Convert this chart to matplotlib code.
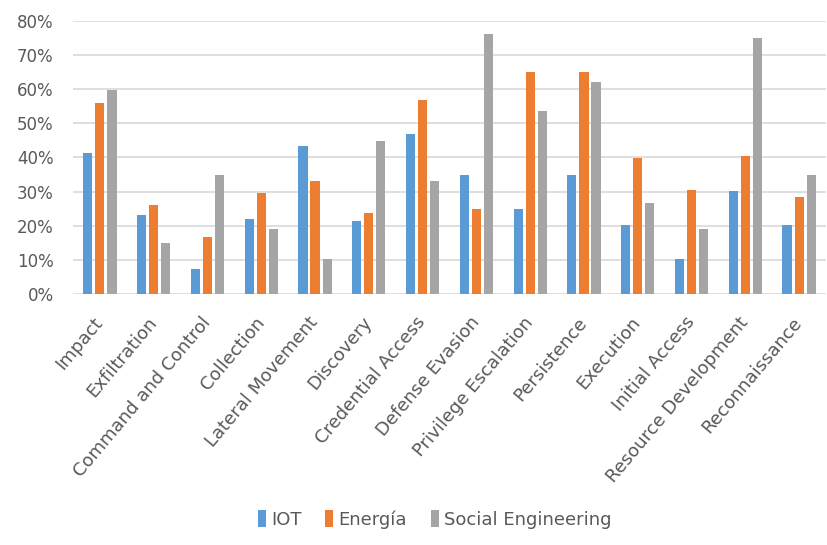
import numpy as np
import matplotlib as mpl
mpl.use('Agg')
from matplotlib import pyplot as plt
from matplotlib import transforms
from matplotlib.ticker import PercentFormatter

# datos
categorias = ['Impact', 'Exfiltration', 'Command and Control', 'Collection',
              'Lateral Movement', 'Discovery', 'Credential Access', 'Defense Evasion',
              'Privilege Escalation', 'Persistence', 'Execution', 'Initial Access',
              'Resource Development', 'Reconnaissance']
iot = [41.3, 23.1, 7.2, 21.9, 43.2, 21.4, 46.7, 34.9, 24.9, 34.9, 20.1, 10.1, 30.2, 20.1]
energia = [56.0, 26.0, 16.6, 29.7, 33.1, 23.8, 56.7, 24.9, 65.0, 65.0, 39.7, 30.3, 40.3, 28.5]
social = [59.7, 14.8, 34.9, 19.0, 10.1, 44.9, 33.1, 76.2, 53.7, 62.1, 26.6, 19.0, 75.0, 34.9]
series_names = ['IOT', 'Energía', 'Social Engineering']

colores = ['#5B9BD5', '#ED7D31', '#A5A5A5']
txt = '#595959'

fig = plt.figure(figsize=(8.28, 5.45), dpi=100)
ax = fig.add_axes([73/828, 1-294/545, (826-73)/828, (294-20.7)/545])

x = np.arange(len(categorias))
w = 0.17
paso = 0.225
for k, vals in enumerate([iot, energia, social]):
    ax.bar(x + (k-1)*paso, vals, width=w, color=colores[k], label=series_names[k], zorder=3)

ax.set_xlim(-0.5, len(categorias)-0.5)
ax.set_ylim(0, 80)
ax.set_yticks(np.arange(0, 81, 10))
ax.yaxis.set_major_formatter(PercentFormatter(decimals=0))
ax.grid(axis='y', color='#D9D9D9', linewidth=1.2, zorder=0)
for s in ax.spines.values():
    s.set_visible(False)
ax.tick_params(axis='both', length=0, colors=txt)
ax.tick_params(axis='y', pad=14, labelsize=12)
ax.set_xticks(x)
ax.set_xticklabels(categorias, rotation=50, ha='right', rotation_mode='anchor', fontsize=13, color=txt)
ax.tick_params(axis='x', pad=14)
# correr etiquetas un poco a la izquierda
desp = transforms.ScaledTranslation(-7/100, 0, fig.dpi_scale_trans)
for lab in ax.get_xticklabels():
    lab.set_transform(lab.get_transform() + desp)

leg = fig.legend(loc='lower center', bbox_to_anchor=(0.525, 0.0), ncol=3, frameon=False,
                 fontsize=13, handlelength=0.45, handleheight=1.0, handletextpad=0.3, columnspacing=1.3)
for t in leg.get_texts():
    t.set_color(txt)

plt.savefig('out.png', dpi=100)
